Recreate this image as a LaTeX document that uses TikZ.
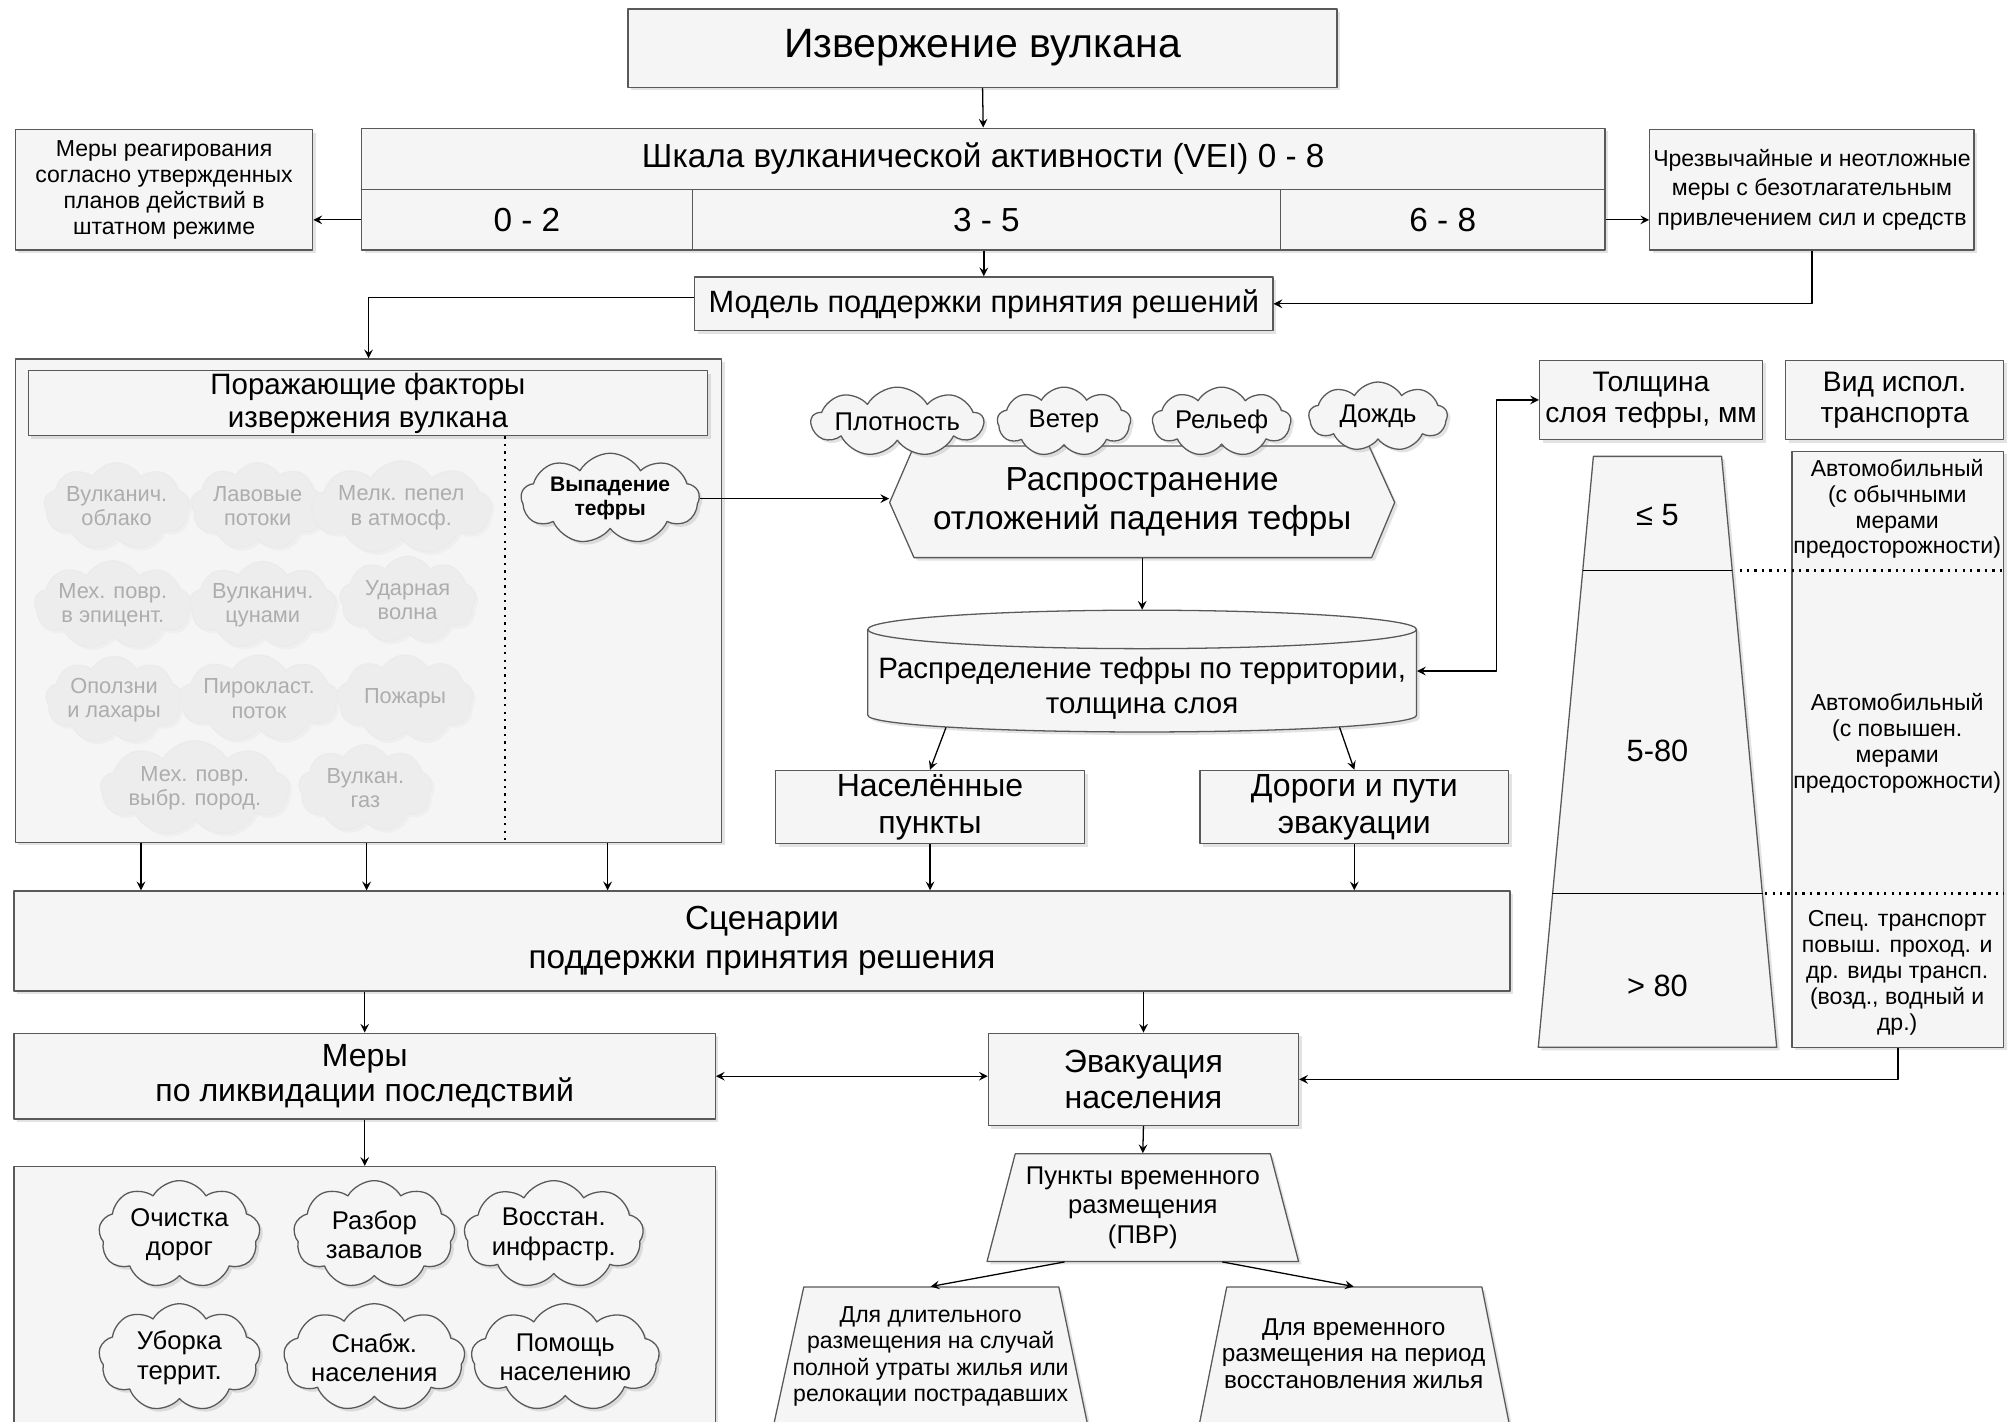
\documentclass[tikz,border=0pt]{standalone}
\usepackage{fontspec}
\setmainfont{Liberation Sans}
\usetikzlibrary{calc,shadows,shapes.symbols}
\newcommand\fsz[2]{\fontsize{#1}{#2}\selectfont}
\def\upx{0.5pt}

\begin{document}
\begin{tikzpicture}[x=0.5pt, y=-0.5pt, line join=round, >=stealth,
	shd/.style={drop shadow={shadow xshift=1.2pt, shadow yshift=-1.2pt, opacity=0.22}},
	sz/.style 2 args={minimum width=#1*\upx, minimum height=#2*\upx},
	bare/.style={draw=black!65, fill=black!4, line width=0.5pt},
	box/.style={bare, shd, inner sep=0pt, align=center},
	txt/.style={inner sep=0pt, align=center},
	puff/.style={cloud, cloud puffs=9, cloud puff arc=120, cloud ignores aspect, inner sep=0pt, align=center},
	cl/.style={puff, bare, shd},
	faded/.style={puff, draw=black!8, fill=black!7, text=black!32, line width=0.5pt,
		drop shadow={shadow xshift=1.2pt, shadow yshift=-1.2pt, opacity=0.05}},
	arr/.style={->, line width=0.5pt},
	dots/.style={dotted, line width=0.9pt}]
	\useasboundingbox (0,0) rectangle (1568,1109);
	\fill[white] (0,0) rectangle (1568,1109);
	\clip (0,0) rectangle (1568,1109);
	% top
	\node[box, sz={553}{61}, font=\fsz{16}{19}] (erupt) at (766.5,37.5) {Извержение вулкана};
	\node[box, sz={970}{48}, font=\fsz{13}{15}] (vei) at (767,124) {Шкала вулканической активности (VEI) 0 - 8};
	\node[box, sz={258}{47}, font=\fsz{13}{15}] (v02) at (411,171.5) {0 - 2};
	\node[box, sz={459}{47}, font=\fsz{13}{15}] (v35) at (769.5,171.5) {3 - 5};
	\node[box, sz={253}{47}, font=\fsz{13}{15}] (v68) at (1125.5,171.5) {6 - 8};
	\node[box, sz={232}{94}, font=\fsz{9}{10.2}] (routine) at (128,148) {Меры реагирования\\согласно утвержденных\\планов действий в\\штатном режиме};
	\node[box, sz={253}{94}, font=\fsz{9}{11.5}] (urgent) at (1413.5,148) {Чрезвычайные и неотложные\\меры с безотлагательным\\привлечением сил и средств};
	\node[box, sz={451}{42}, font=\fsz{12}{14}] (dss) at (767.5,237) {Модель поддержки принятия решений};
	% hazards
	\node[box, sz={551}{377}] (hazard) at (287.5,468.5) {};
	\node[box, sz={530}{51}, font=\fsz{11.5}{13}] (hazhead) at (287,314.5) {Поражающие факторы\\извержения вулкана};
	\draw[dots] (394,0 |- hazhead.south) -- (394,0 |- hazard.south);
	\foreach \cx/\cy/\w/\t [count=\i] in {91/395/108/{Вулканич.\\облако}, 201/395/104/{Лавовые\\потоки},
		313/396/112/{Мелк. пепел\\в атмосф.}, 88/472/104/{Мех. повр.\\в эпицент.}, 205/472/106/{Вулканич.\\цунами},
		318/468/106/{Ударная\\волна}, 89/546/104/{Оползни\\и лахары}, 202/545/106/{Пирокласт.\\поток},
		316/545/106/{Пожары}, 152/615/118/{Мех. повр.\\выбр. пород.}, 285/615/104/{Вулкан.\\газ}}
		\node[faded, sz={\w}{68}, font=\fsz{8.5}{9.5}] (f\i) at (\cx,\cy) {\t};
	\node[cl, sz={139}{69}, font=\bfseries\fsz{8.2}{9.5}] (tephra) at (476,389) {Выпадение\\тефры};
	% tephra spread
	\draw[bare, shd] (694,392) -- (713,348) -- (1068,348) -- (1088,392) -- (1070,435) -- (713,435) -- cycle;
	\node[txt, sz={394}{87}, font=\fsz{13}{15}] (spread) at (891,391.5) {Распространение\\отложений падения тефры};
	\foreach \cx/\cy/\w/\t [count=\i] in {700/329/129/Плотность, 830/329/104/Ветер, 953/329/108/Рельеф, 1075/325/108/Дождь}
		\node[cl, sz={\w}{54}, font=\fsz{10}{12}] (c\i) at (\cx,\cy) {\t};
	\draw[bare, shd] (677,491) -- (677,558) arc[start angle=180, end angle=360, x radius=107pt, y radius=6.5pt]
		-- (1105,491) arc[start angle=0, end angle=180, x radius=107pt, y radius=7.5pt] -- cycle;
	\draw[draw=black!65, line width=0.5pt] (677,491) arc[start angle=180, end angle=360, x radius=107pt, y radius=7.5pt];
	\node[txt, sz={428}{95}] (tdist) at (891,523.5) {};
	\node[txt, font=\fsz{11.5}{13.5}] (tdisttxt) at (891,537) {Распределение тефры по территории,\\толщина слоя};
	\node[box, sz={241}{57}, font=\fsz{12.5}{14.5}] (towns) at (725.5,629.5) {Населённые\\пункты};
	\node[box, sz={241}{57}, font=\fsz{12.5}{14.5}] (roads) at (1056.5,629.5) {Дороги и пути\\эвакуации};
	% thickness and transport
	\node[box, sz={174}{62}, font=\fsz{11}{12}] (thick) at (1288,312) {Толщина\\слоя тефры, мм};
	\node[box, sz={170}{62}, font=\fsz{11}{12}] (kind) at (1478,312) {Вид испол.\\транспорта};
	\draw[bare, shd] (1243,356) -- (1343,356) -- (1386,817) -- (1200,817) -- cycle;
	\draw[black, line width=0.5pt] (1235,445) -- (1351,445) (1211,697) -- (1375,697);
	\node[txt, font=\fsz{12}{14}] (le5) at (1293,402) {≤ 5};
	\node[txt, font=\fsz{12}{14}] (mid) at (1293,586) {5-80};
	\node[txt, font=\fsz{12}{14}] (gt80) at (1293,769) {> 80};
	\node[box, sz={165}{465}] (mode) at (1480.5,584.5) {};
	\node[txt, font=\fsz{9}{10.1}] (car1) at (1480,397) {Автомобильный\\(с обычными\\мерами\\предосторожности)};
	\node[txt, font=\fsz{9}{10.1}] (car2) at (1480,580) {Автомобильный\\(с повышен.\\мерами\\предосторожности)};
	\node[txt, font=\fsz{9}{10.1}] (spec) at (1480,759) {Спец. транспорт\\повыш. проход. и\\др. виды трансп.\\(возд., водный и\\др.)};
	\draw[dots] (1357,445) -- (1563,445) (1377,697) -- (1563,697);
	% scenarios
	\node[box, sz={1167}{78}, font=\fsz{13}{15}] (scen) at (594.5,734) {Сценарии\\поддержки принятия решения};
	\node[box, sz={547}{67}, font=\fsz{12.5}{14}] (liq) at (284.5,839.5) {Меры\\по ликвидации последствий};
	\node[box, sz={242}{72}, font=\fsz{12.5}{14}] (evac) at (892,842) {Эвакуация\\населения};
	\node[box, sz={547}{210}] (works) at (284.5,1015) {};
	\foreach \cx/\cy/\t [count=\i] in {140/963/{Очистка\\дорог}, 292/963/{Разбор\\завалов}, 432/963/{Восстан.\\инфрастр.},
		140/1059/{Уборка\\террит.}, 292/1059/{Снабж.\\населения}, 441/1059/{Помощь\\населению}}
		\node[cl, sz={126}{84}, font=\fsz{10}{11.5}] (w\i) at (\cx,\cy) {\t};
	\draw[bare, shd] (792,900) -- (991,900) -- (1013,984) -- (770,984) -- cycle;
	\node[txt, sz={243}{84}, font=\fsz{10}{11.5}] (pvr) at (891.5,942) {Пункты временного\\размещения\\(ПВР)};
	\draw[bare, shd] (627,1004) -- (826,1004) -- (849,1114) -- (603,1114) -- cycle;
	\node[txt, sz={200}{108}, font=\fsz{9}{10.3}] (longstay) at (726,1058) {Для длительного\\размещения на случай\\полной утраты жилья или\\релокации пострадавших};
	\draw[bare, shd] (957,1004) -- (1156,1004) -- (1178,1114) -- (935,1114) -- cycle;
	\node[txt, sz={200}{104}, font=\fsz{9.5}{10.5}] (shortstay) at (1056,1056) {Для временного\\размещения на период\\восстановления жилья};
	% connectors
	\draw[arr] (erupt.south) -- (vei.north);
	\draw[arr] (v02.west) -- (v02.west -| routine.east);
	\draw[arr] (v68.east) -- (v68.east -| urgent.west);
	\draw[arr] (v35.south -| dss.north) -- (dss.north);
	\draw[arr] (urgent.south) |- (dss.east);
	\draw[arr] ($(dss.west)+(0,-5)$) -| (hazard.north);
	\draw[arr] (tephra.east) -- (tephra.east -| spread.west);
	\draw[arr] (spread.south) -- (tdist.north);
	\draw[arr] ($(tdist.south)+(-153,-4)$) -- (towns.north);
	\draw[arr] ($(tdist.south)+(154,-4)$) -- (roads.north);
	\draw[<->, line width=0.5pt] (tdist.east) -- ++(62,0) |- (thick.west);
	\foreach \x in {110,286,474} \draw[arr] (\x,0 |- hazard.south) -- (\x,0 |- scen.north);
	\draw[arr] (towns.south) -- (towns.south |- scen.north);
	\draw[arr] (roads.south) -- (roads.south |- scen.north);
	\draw[arr] (liq.north |- scen.south) -- (liq.north);
	\draw[arr] (evac.north |- scen.south) -- (evac.north);
	\draw[<->, line width=0.5pt] (liq.east) -- (liq.east -| evac.west);
	\draw[arr] (mode.south) |- (evac.east);
	\draw[arr] (liq.south) -- (works.north);
	\draw[arr] (evac.south) -- (pvr.north);
	\draw[arr] ($(pvr.south)+(-61,0)$) -- (longstay.north);
	\draw[arr] ($(pvr.south)+(62,0)$) -- (shortstay.north);
\end{tikzpicture}
\end{document}
